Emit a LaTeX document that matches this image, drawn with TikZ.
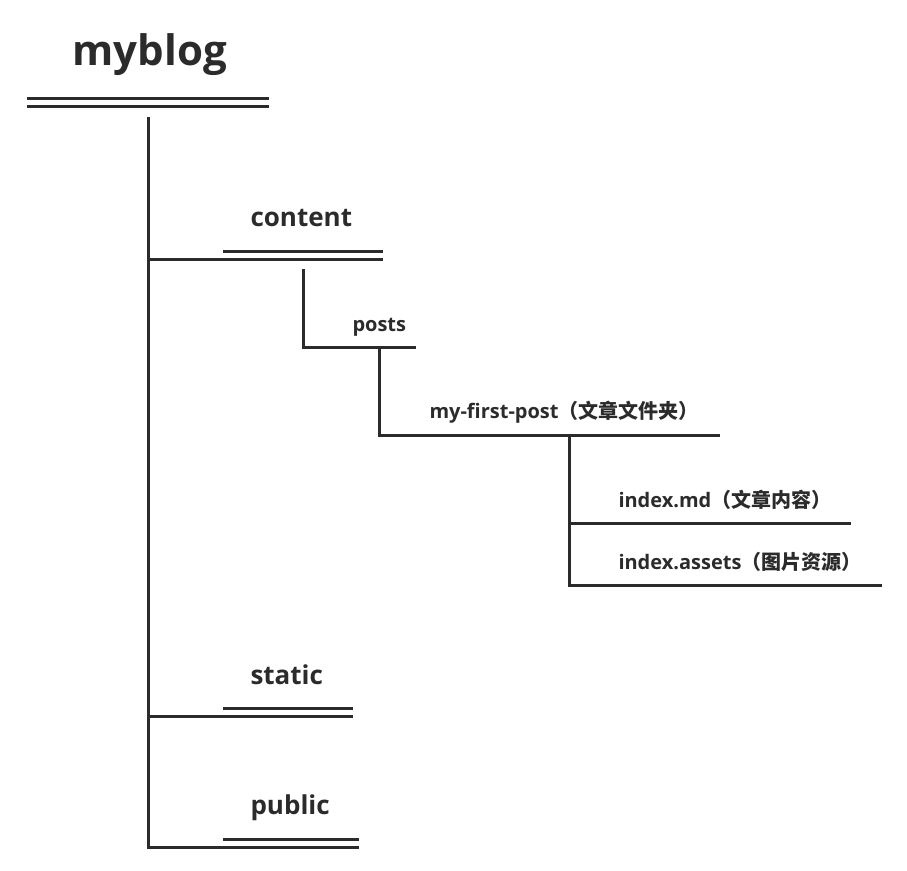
\documentclass[tikz,border=0pt]{standalone}
\usepackage{fontspec}
\setmainfont{Open Sans}
\newfontfamily\cjk{Noto Sans CJK SC}
\usetikzlibrary{positioning}
\definecolor{ink}{HTML}{2B2B2B}

\begin{document}
\begin{tikzpicture}[x=1pt,y=-1pt,line width=3pt,color=ink,
  lbl/.style={anchor=base west,inner sep=0pt,font=\bfseries\fontsize{20}{20}\selectfont},
  mid/.style={lbl,font=\bfseries\fontsize{26}{26}\selectfont},
  big/.style={lbl,font=\bfseries\fontsize{42}{42}\selectfont},
  ul/.style={double=white,double distance=5pt}]
        \useasboundingbox (0,0) rectangle (907,870);

        \node[big] (myblog) at (71,65) {myblog};
        \node[mid] (content) at (249,226) {content};
        \node[lbl] (posts) at (351,331) {posts};
        \node[lbl] (post) at (428,418) {my-first-post{\cjk\bfseries （文章文件夹）}};
        \node[lbl] (md) at (617,507) {index.md{\cjk\bfseries （文章内容）}};
        \node[lbl] (assets) at (617,569) {index.assets{\cjk\bfseries （图片资源）}};
        \node[mid] (static) at (249,684) {static};
        \node[mid] (public) at (249,814) {public};

        % underlines
        \coordinate (myblog-l) at (27,102);  \coordinate (myblog-r) at (269,102);
        \coordinate (content-l) at (223,255); \coordinate (content-r) at (383,255);
        \coordinate (static-l) at (223,712); \coordinate (static-r) at (353,712);
        \coordinate (public-l) at (223,843); \coordinate (public-r) at (359,843);
        \coordinate (posts-r) at (416,347);
        \coordinate (post-r) at (720,435);
        \coordinate (md-r) at (851,523);
        \coordinate (assets-r) at (882,585);

        \draw[ul] (myblog-l) -- (myblog-r);
        \draw[ul] (content-l) -- (content-r);
        \draw[ul] (static-l) -- (static-r);
        \draw[ul] (public-l) -- (public-r);

        % tree
        \coordinate (trunk) at (148,117);
        \coordinate (c-down) at (303,269);
        \coordinate (p-down) at (379,347);
        \coordinate (f-down) at (569,435);
        \draw (trunk) |- ([yshift=-4pt]public-l);
        \draw (trunk |- content-l) ++(0,4) -- ([yshift=-4pt]content-l);
        \draw (trunk |- static-l) ++(0,4) -- ([yshift=-4pt]static-l);
        \draw (c-down) |- (posts-r);
        \draw (p-down) |- (post-r);
        \draw (f-down) |- (assets-r);
        \draw (f-down |- md-r) -- (md-r);
      \end{tikzpicture}
\end{document}
